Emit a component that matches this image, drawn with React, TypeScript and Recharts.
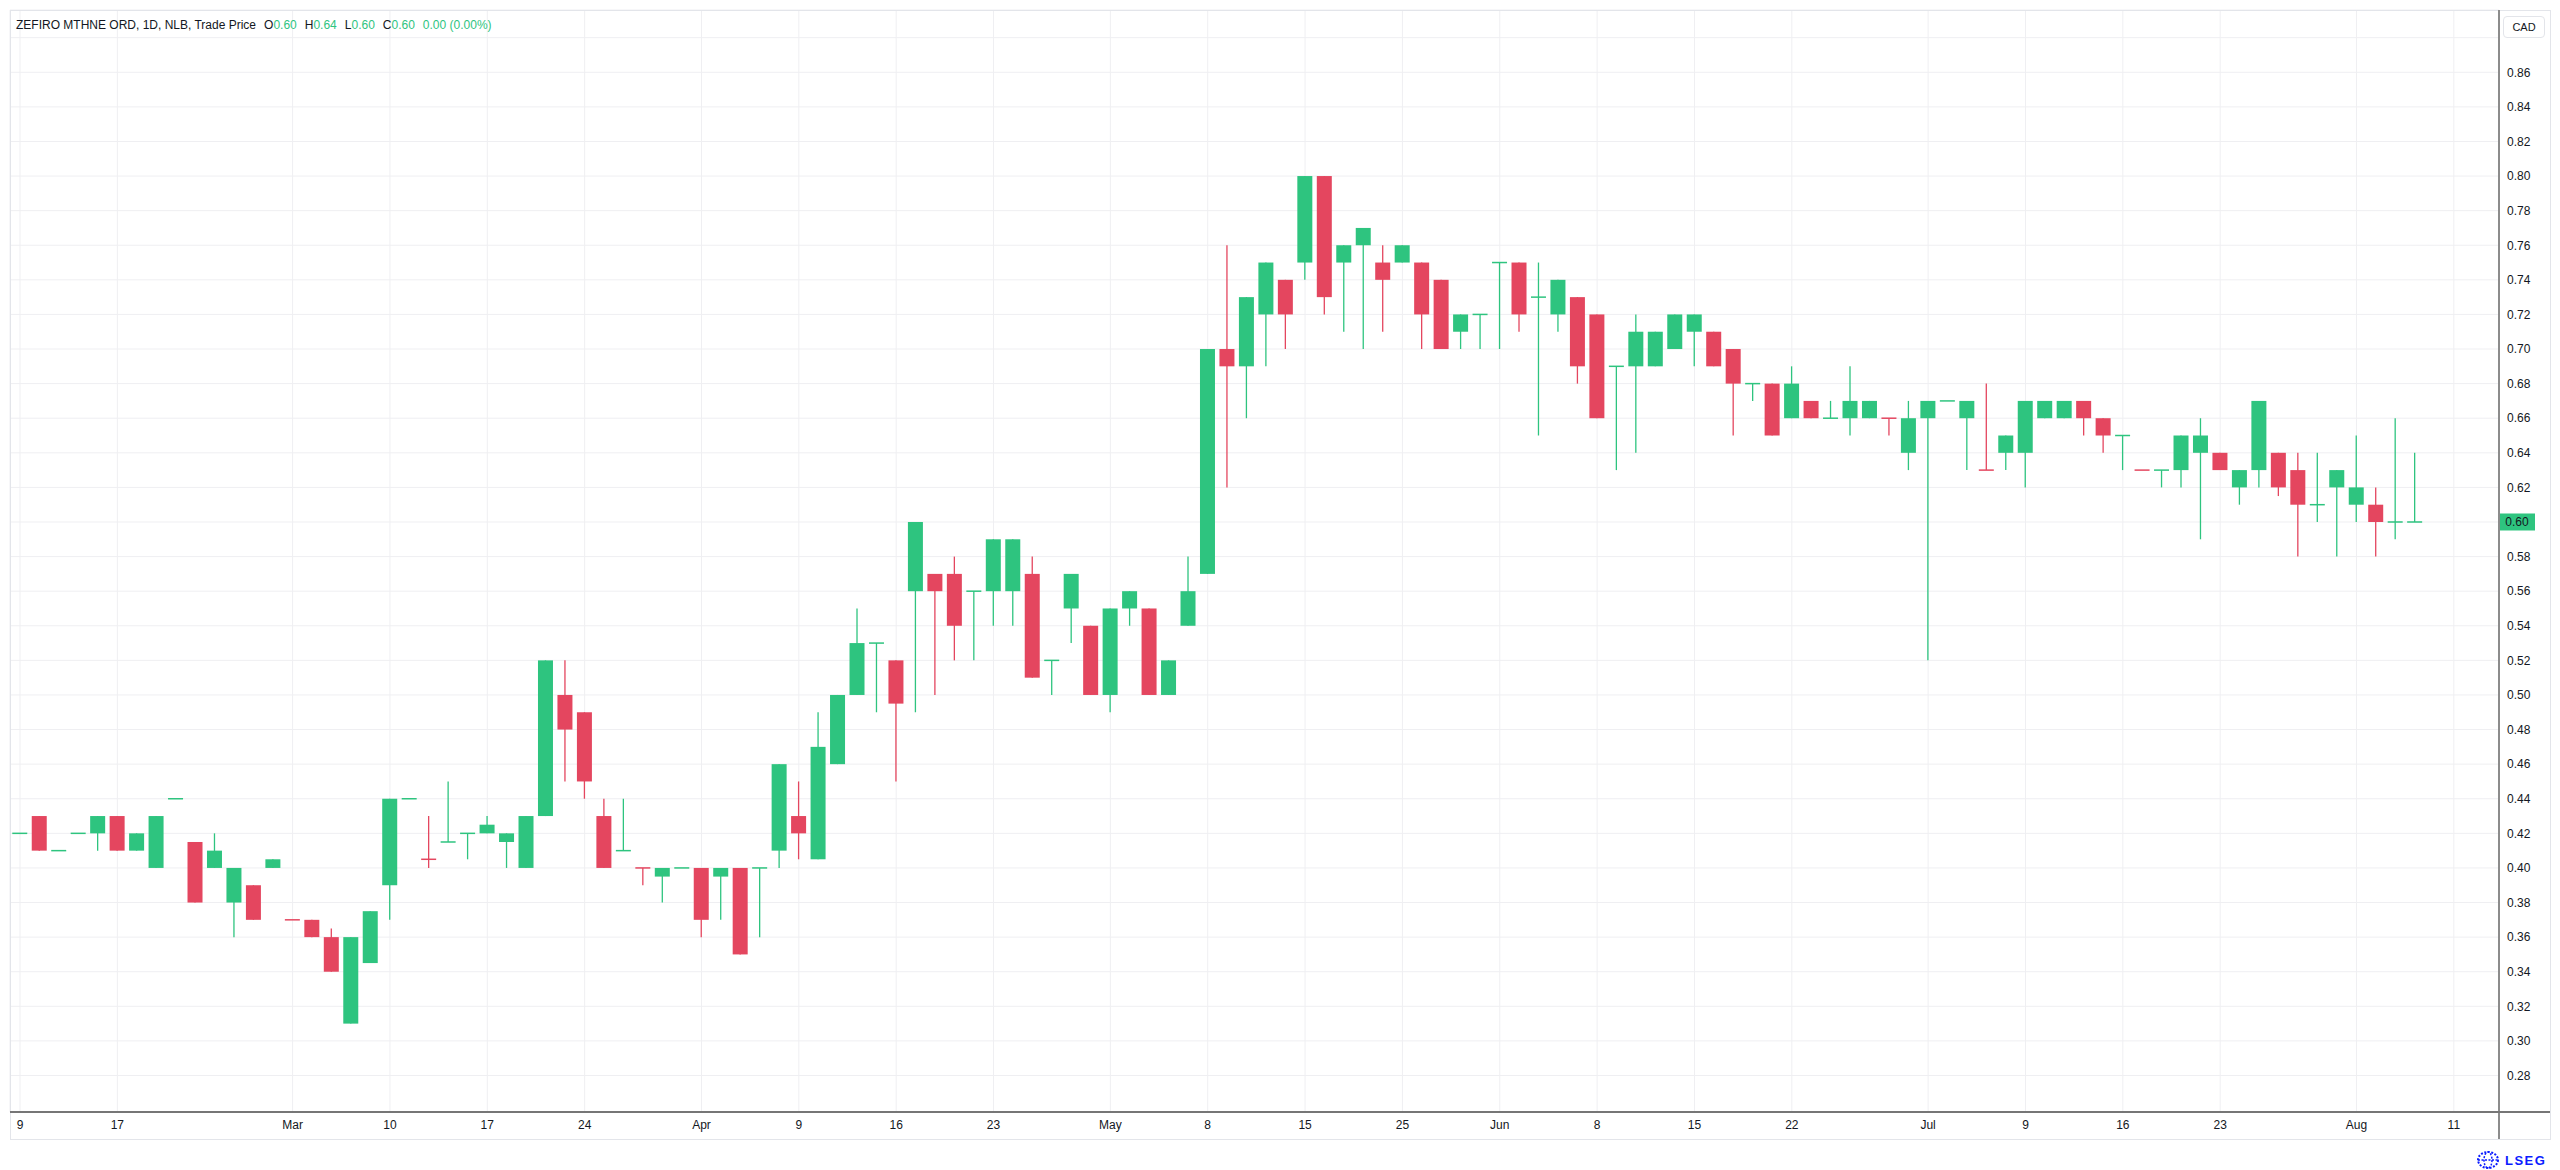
import { Bar, CartesianGrid, ComposedChart, ReferenceLine, XAxis, YAxis } from "recharts";

// daily OHLC (one entry per traded day)
const openPrices = [
  0.42, 0.43, 0.41, 0.42, 0.42, 0.43, 0.41, 0.40, 0.44, 0.415, 0.40, 0.38, 0.39, 0.40, 0.37, 0.37, 0.36, 0.31, 0.345, 0.39,
  0.44, 0.405, 0.415, 0.42, 0.42, 0.415, 0.40, 0.43, 0.50, 0.49, 0.43, 0.41, 0.40, 0.395, 0.40, 0.40, 0.395, 0.40, 0.40, 0.41,
  0.43, 0.405, 0.46, 0.50, 0.53, 0.52, 0.56, 0.57, 0.57, 0.56, 0.56, 0.56, 0.57, 0.52, 0.55, 0.54, 0.50, 0.55, 0.55, 0.50,
  0.54, 0.57, 0.70, 0.69, 0.72, 0.74, 0.75, 0.80, 0.75, 0.76, 0.75, 0.75, 0.75, 0.74, 0.71, 0.72, 0.75, 0.75, 0.73, 0.72,
  0.73, 0.72, 0.69, 0.69, 0.69, 0.70, 0.71, 0.71, 0.70, 0.68, 0.68, 0.66, 0.67, 0.66, 0.66, 0.66, 0.66, 0.64, 0.66, 0.67,
  0.66, 0.63, 0.64, 0.64, 0.66, 0.66, 0.67, 0.66, 0.65, 0.63, 0.63, 0.63, 0.64, 0.64, 0.62, 0.63, 0.64, 0.63, 0.61, 0.62,
  0.61, 0.61, 0.60, 0.60,
];
const highPrices = [
  0.42, 0.43, 0.41, 0.42, 0.43, 0.43, 0.42, 0.43, 0.44, 0.415, 0.42, 0.40, 0.39, 0.405, 0.37, 0.37, 0.365, 0.36, 0.375, 0.44,
  0.44, 0.43, 0.45, 0.42, 0.43, 0.42, 0.43, 0.52, 0.52, 0.49, 0.44, 0.44, 0.40, 0.40, 0.40, 0.40, 0.40, 0.40, 0.40, 0.46,
  0.45, 0.49, 0.50, 0.55, 0.53, 0.52, 0.60, 0.57, 0.58, 0.56, 0.59, 0.59, 0.58, 0.52, 0.57, 0.54, 0.55, 0.56, 0.55, 0.52,
  0.58, 0.70, 0.76, 0.73, 0.75, 0.74, 0.80, 0.80, 0.76, 0.77, 0.76, 0.76, 0.75, 0.74, 0.72, 0.72, 0.75, 0.75, 0.75, 0.74,
  0.73, 0.72, 0.69, 0.72, 0.71, 0.72, 0.72, 0.71, 0.70, 0.68, 0.68, 0.69, 0.67, 0.67, 0.69, 0.67, 0.66, 0.67, 0.67, 0.67,
  0.67, 0.68, 0.65, 0.67, 0.67, 0.67, 0.67, 0.66, 0.65, 0.63, 0.63, 0.65, 0.66, 0.64, 0.63, 0.67, 0.64, 0.64, 0.64, 0.63,
  0.65, 0.62, 0.66, 0.64,
];
const lowPrices = [
  0.42, 0.41, 0.41, 0.42, 0.41, 0.41, 0.41, 0.40, 0.44, 0.38, 0.40, 0.36, 0.37, 0.40, 0.37, 0.36, 0.34, 0.31, 0.345, 0.37,
  0.44, 0.40, 0.415, 0.405, 0.42, 0.40, 0.40, 0.43, 0.45, 0.44, 0.40, 0.41, 0.39, 0.38, 0.40, 0.36, 0.37, 0.35, 0.36, 0.40,
  0.405, 0.405, 0.46, 0.50, 0.49, 0.45, 0.49, 0.50, 0.52, 0.52, 0.54, 0.54, 0.51, 0.50, 0.53, 0.50, 0.49, 0.54, 0.50, 0.50,
  0.54, 0.57, 0.62, 0.66, 0.69, 0.70, 0.74, 0.72, 0.71, 0.70, 0.71, 0.75, 0.70, 0.70, 0.70, 0.70, 0.70, 0.71, 0.65, 0.71,
  0.68, 0.66, 0.63, 0.64, 0.69, 0.70, 0.69, 0.69, 0.65, 0.67, 0.65, 0.66, 0.66, 0.66, 0.65, 0.66, 0.65, 0.63, 0.52, 0.67,
  0.63, 0.63, 0.63, 0.62, 0.66, 0.66, 0.65, 0.64, 0.63, 0.63, 0.62, 0.62, 0.59, 0.63, 0.61, 0.62, 0.615, 0.58, 0.60, 0.58,
  0.60, 0.58, 0.59, 0.60,
];
const closePrices = [
  0.42, 0.41, 0.41, 0.42, 0.43, 0.41, 0.42, 0.43, 0.44, 0.38, 0.41, 0.40, 0.37, 0.405, 0.37, 0.36, 0.34, 0.36, 0.375, 0.44,
  0.44, 0.405, 0.415, 0.42, 0.425, 0.42, 0.43, 0.52, 0.48, 0.45, 0.40, 0.41, 0.40, 0.40, 0.40, 0.37, 0.40, 0.35, 0.40, 0.46,
  0.42, 0.47, 0.50, 0.53, 0.53, 0.495, 0.60, 0.56, 0.54, 0.56, 0.59, 0.59, 0.51, 0.52, 0.57, 0.50, 0.55, 0.56, 0.50, 0.52,
  0.56, 0.70, 0.69, 0.73, 0.75, 0.72, 0.80, 0.73, 0.76, 0.77, 0.74, 0.76, 0.72, 0.70, 0.72, 0.72, 0.75, 0.72, 0.73, 0.74,
  0.69, 0.66, 0.69, 0.71, 0.71, 0.72, 0.72, 0.69, 0.68, 0.68, 0.65, 0.68, 0.66, 0.66, 0.67, 0.67, 0.66, 0.66, 0.67, 0.67,
  0.67, 0.63, 0.65, 0.67, 0.67, 0.67, 0.66, 0.65, 0.65, 0.63, 0.63, 0.65, 0.65, 0.63, 0.63, 0.67, 0.62, 0.61, 0.61, 0.63,
  0.62, 0.60, 0.60, 0.60,
];

// x axis labels and the bar they sit under
const dateTickIndex = [0, 5, 14, 19, 24, 29, 35, 40, 45, 50, 56, 61, 66, 71, 76, 81, 86, 91, 98, 103, 108, 113, 120, 125];
const dateTickLabels = ["9", "17", "Mar", "10", "17", "24", "Apr", "9", "16", "23", "May", "8", "15", "25", "Jun", "8", "15", "22", "Jul", "9", "16", "23", "Aug", "11"];

const priceTicks = [
  0.28, 0.30, 0.32, 0.34, 0.36, 0.38, 0.40, 0.42, 0.44, 0.46, 0.48, 0.50, 0.52, 0.54, 0.56,
  0.58, 0.60, 0.62, 0.64, 0.66, 0.68, 0.70, 0.72, 0.74, 0.76, 0.78, 0.80, 0.82, 0.84, 0.86, 0.88,
];

const UP = "#2ec47f";
const DOWN = "#e4465f";
const TEXT = "#131722";
const FONT = "'Liberation Sans', Arial, sans-serif";

const candles = openPrices.map((open, i) => {
  const close = closePrices[i];
  const up = close > open || (close === open && (i === 0 || close >= closePrices[i - 1]));
  return { i, open, high: highPrices[i], low: lowPrices[i], close, up };
});

const last = candles[candles.length - 1];
const prevClose = candles[candles.length - 2].close;
const change = last.close - prevClose;

function Candle(props: any) {
  const { x, y, width, height, payload } = props;
  if (x == null || y == null || !payload) return null;
  const { open, high, low, close, up } = payload;
  const color = up ? UP : DOWN;
  const top = Math.min(y, y + height);
  const h = Math.abs(height);
  const span = high - low;
  const k = span > 0 ? h / span : 0;
  const py = (v: number) => top + (high - v) * k;
  const cx = x + width / 2;
  const bTop = py(Math.max(open, close));
  const bBot = py(Math.min(open, close));
  return (
    <g>
      {span > 0 && <line x1={cx} x2={cx} y1={top} y2={top + h} stroke={color} strokeWidth={1.3} />}
      {bBot - bTop >= 1 ? (
        <rect x={x} y={bTop} width={width} height={bBot - bTop} fill={color} />
      ) : (
        <line x1={x} x2={x + width} y1={bTop} y2={bTop} stroke={color} strokeWidth={1.5} />
      )}
    </g>
  );
}

function PriceTag(props: any) {
  const vb = props.viewBox;
  if (!vb) return null;
  const left = vb.x + vb.width;
  return (
    <g>
      <rect x={left} y={vb.y - 8.5} width={36} height={17} fill={UP} />
      <text x={left + 18} y={vb.y + 4.3} textAnchor="middle" fontSize={12} fill={TEXT} fontFamily={FONT}>
        {last.close.toFixed(2)}
      </text>
    </g>
  );
}

const line = (left: number, top: number, width: number, height: number, bg: string) => (
  <div style={{ position: "absolute", left, top, width, height, background: bg, pointerEvents: "none" }} />
);

export default function App() {
  const fmtPrice = (v: number) =>
    Math.abs(v - 0.88) < 1e-9 || Math.abs(v - last.close) < 1e-9 ? "" : v.toFixed(2);
  const fmtDate = (v: number) => dateTickLabels[dateTickIndex.indexOf(v)] ?? "";
  const val = { color: UP };

  return (
    <div style={{ position: "fixed", left: 0, top: 0, width: 2560, height: 1170, background: "#fff", overflow: "hidden", fontFamily: FONT }}>
      <ComposedChart width={2560} height={1170} data={candles} margin={{ top: 10, right: 10, bottom: 0, left: 10 }}>
        <CartesianGrid stroke="#efeff2" strokeWidth={1} />
        <XAxis
          dataKey="i"
          type="number"
          domain={[-0.514, 127.32]}
          allowDataOverflow
          ticks={dateTickIndex}
          interval={0}
          tickFormatter={fmtDate}
          height={58}
          axisLine={false}
          tickLine={false}
          tickSize={8}
          tickMargin={0}
          tick={{ fill: TEXT, fontSize: 12 }}
        />
        <YAxis
          orientation="right"
          type="number"
          domain={[0.2589, 0.896]}
          allowDataOverflow
          ticks={priceTicks}
          interval={0}
          tickFormatter={fmtPrice}
          width={51}
          axisLine={false}
          tickLine={false}
          tickSize={8}
          tickMargin={0}
          tick={{ fill: TEXT, fontSize: 12, textAnchor: "start" }}
        />
        <Bar dataKey={(d: any) => [d.low, d.high]} barSize={15} shape={Candle} isAnimationActive={false} />
        <ReferenceLine y={last.close} stroke="none" label={PriceTag} />
      </ComposedChart>

      {line(10, 10, 2540, 1, "#e3e5ea")}
      {line(10, 10, 1, 1129, "#e3e5ea")}
      {line(2550, 10, 1, 1130, "#e3e5ea")}
      {line(10, 1139, 2541, 1, "#e3e5ea")}
      {line(2498, 10, 1.5, 1129, "#8c8c8c")}
      {line(10, 1111, 2540, 1.5, "#767676")}

      <div style={{ position: "absolute", left: 16, top: 18, fontSize: 12, lineHeight: "14px", color: TEXT, whiteSpace: "nowrap" }}>
        <span>ZEFIRO MTHNE ORD, 1D, NLB, Trade Price</span>
        <span style={{ marginLeft: 8 }}>O<span style={val}>{last.open.toFixed(2)}</span></span>
        <span style={{ marginLeft: 8 }}>H<span style={val}>{last.high.toFixed(2)}</span></span>
        <span style={{ marginLeft: 8 }}>L<span style={val}>{last.low.toFixed(2)}</span></span>
        <span style={{ marginLeft: 8 }}>C<span style={val}>{last.close.toFixed(2)}</span></span>
        <span style={{ marginLeft: 8, ...val }}>
          {change.toFixed(2)} ({((change / prevClose) * 100).toFixed(2)}%)
        </span>
      </div>

      <div
        style={{
          position: "absolute", left: 2503, top: 16, width: 42, height: 22, boxSizing: "border-box",
          border: "1px solid #e3e5ea", borderRadius: 4, fontSize: 11, color: TEXT,
          display: "flex", alignItems: "center", justifyContent: "center",
        }}
      >
        CAD
      </div>

      <div style={{ position: "absolute", left: 2476, top: 1151, display: "flex", alignItems: "center", color: "#0b1cff" }}>
        <svg width={24} height={18} viewBox="0 0 24 18">
          <ellipse cx={12} cy={9} rx={10} ry={8} fill="none" stroke="#0b1cff" strokeWidth={2} strokeDasharray="2 1.5" />
          <ellipse cx={12} cy={9} rx={4} ry={8} fill="none" stroke="#0b1cff" strokeWidth={1.5} strokeDasharray="2 1.5" />
          <line x1={2} x2={22} y1={9} y2={9} stroke="#0b1cff" strokeWidth={1.5} strokeDasharray="2 1.5" />
        </svg>
        <span style={{ marginLeft: 5, fontWeight: 700, fontSize: 13, letterSpacing: 1.5 }}>LSEG</span>
      </div>
    </div>
  );
}
